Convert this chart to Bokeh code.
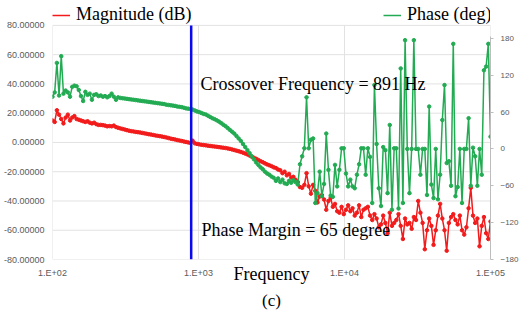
import numpy as np
from bokeh.plotting import figure
from bokeh.models import (Range1d, LinearAxis, FixedTicker, PrintfTickFormatter,
                          Label, Legend, LegendItem, Title)
from bokeh.embed import file_html
from bokeh.resources import INLINE

# Sweep frequencies (log spaced, 100 Hz .. 100 kHz)
freq_hz = np.logspace(2, 5, 201)

# Loop gain magnitude in dB
magnitude_db = [
    15, 14, 22, 19, 16, 13, 17, 19, 15, 17,
    18, 16, 15.5, 15, 14.5, 14, 14.5, 13.5, 13, 13.5,
    12.5, 12, 12, 11.8, 11.5, 11, 11.2, 11, 11.5, 10.5,
    10, 9.6, 9.2, 8.8, 8.4, 8, 7.7, 7.5, 7.2, 7,
    6.8, 6.5, 6.2, 5.9, 5.6, 5.4, 5.1, 4.8, 4.5, 4.3,
    4, 3.7, 3.4, 3, 2.6, 2.3, 2, 1.6, 1.3, 1,
    0.6, 0.3, 0, -0.3, 1.2, -0.6, -1, -1.3, -1.6, -1.8,
    -2, -2.2, -2.4, -2.6, -2.8, -3, -3.2, -3.4, -3.6, -3.8,
    -4.1, -4.4, -4.8, -5.2, -5.6, -6, -6.5, -7, -7.6, -8.2,
    -9, -9.8, -10.5, -11.2, -12, -12.8, -13.5, -14.3, -15, -15.6,
    -16.2, -17, -17.5, -18.5, -19, -21, -20, -22.5, -21.5, -24,
    -23.5, -25.5, -27, -30.5, -31, -29, -21, -30, -35, -29,
    -33, -41, -37, -36, -39, -46, -40, -38, -44, -42,
    -47, -48, -44, -49, -46, -43, -47, -45, -50, -48,
    -43, -51, -46, -45, -44, -50, -53, -49, -52, -58,
    -56, -50, -55, -62, -48, -57, -55, -53, -49, -57,
    -66, -52, -56, -55, -59, -51, -53, -40, -48, -55,
    -73, -60, -52, -57, -70, -60, -50, -42, -52, -60,
    -74, -55, -51, -49, -53, -56, -50, -60, -63, -58,
    -45, -31, -50, -55, -52, -71, -57, -51, -62, -66, -54,
]

# Loop gain phase in degrees
phase_deg = [
    85, 92, 140, 87, 151, 90, 95, 92, 85, 101,
    103, 102, 96, 86, 78, 93, 88, 90, 80, 88,
    89, 86, 87, 85, 86, 84, 86, 90, 85, 80,
    84, 83, 82.5, 82, 81.5, 81, 80.5, 80, 79.5, 79,
    78.5, 78, 77.5, 77, 76.5, 76, 75.5, 75, 74.5, 74,
    73.5, 73, 72, 71.5, 71, 70.5, 70, 69, 68.5, 68,
    67, 66, 65.5, 65, 64, 62.5, 61, 60, 58.5, 57,
    56, 54, 52, 50, 48.5, 46.5, 44.5, 42, 39.5, 37,
    34, 31, 28, 25, 21, 17, 13, 8, 3, -2,
    -7, -12, -17, -22, -26, -30, -33, -37, -40, -42,
    -45, -47, -52, -48, -54, -50, -56, -57, -52, -55,
    -51, -54, -58, -25, -12, 1, 84, 1, 15, 17,
    -88, -72, -37, -77, -57, 25, -34, -76, -78, -26,
    -61, -34, 1, 1, -40, -61, -50, -61, -64, -42,
    -25, 1, 1, -42, 1, -13, -88, 104, 8, -64,
    -93, 3, -2, -72, 39, -99, 1, 1, -97, 131,
    -88, 177, 0, -72, 0, 177, 0, 0, -42, 0,
    0, -75, 69, -58, -80, 0, -82, -42, 47, 104,
    -23, -20, -60, 171, -77, -62, 0, -88, 0, 0,
    50, -60, 2, -12, -60, 0, -42, 128, 134, 171, 20,
]

crossover_hz = 891
phase_margin_deg = 65

freq_ticks = [1e2, 1e3, 1e4, 1e5]
freq_tick_labels = ["1.E+02", "1.E+03", "1.E+04", "1.E+05"]
mag_ticks = [-80, -60, -40, -20, 0, 20, 40, 60, 80]
phase_ticks = [-180, -120, -60, 0, 60, 120, 180]

SERIF = "Liberation Serif"
SANS = "Liberation Sans"
RED = "#f21a1a"
GREEN = "#22ab52"
BLUE = "#0a0af0"
GRID = "#e2e2e2"
AXIS_TEXT = "#5a5a5a"

# The plotting area reaches up to the canvas top so the series key can sit
# inside it; the value ranges are padded above the top tick accordingly.
MAG_TOP = 97.0
PHASE_TOP = 241.6

p = figure(width=523, height=311, x_axis_type="log",
           x_range=Range1d(1e2, 1e5), y_range=Range1d(-80, MAG_TOP),
           output_backend="svg", toolbar_location=None,
           min_border_left=51, min_border_right=33,
           min_border_top=0, min_border_bottom=51)
p.extra_y_ranges = {"phase": Range1d(-180, PHASE_TOP)}
p.outline_line_color = None
p.background_fill_color = "white"
p.border_fill_color = "white"
p.grid.visible = False

# magnitude axis (left)
yax = p.yaxis[0]
yax.ticker = FixedTicker(ticks=mag_ticks)
yax.formatter = PrintfTickFormatter(format="%.5f")
yax.axis_line_color = None
yax.major_tick_line_color = None
yax.minor_tick_line_color = None
yax.major_tick_out = 0
yax.minor_tick_out = 0
yax.major_label_text_font = SANS
yax.major_label_text_font_size = "9px"
yax.major_label_text_color = AXIS_TEXT
yax.major_label_standoff = 8

# frequency axis (bottom); its title sits on the tick-label row
xax = p.xaxis[0]
xax.ticker = FixedTicker(ticks=freq_ticks)
xax.major_label_overrides = dict(zip(freq_ticks, freq_tick_labels))
xax.axis_line_color = None
xax.major_tick_line_color = None
xax.minor_tick_line_color = None
xax.major_tick_out = 0
xax.minor_tick_out = 0
xax.major_label_text_font = SANS
xax.major_label_text_font_size = "9px"
xax.major_label_text_color = AXIS_TEXT
xax.major_label_standoff = 8
xax.axis_label = "Frequency"
xax.axis_label_text_font = SERIF
xax.axis_label_text_font_style = "normal"
xax.axis_label_text_font_size = "18px"
xax.axis_label_text_color = "black"
xax.axis_label_standoff = -17

# phase axis (right)
rax = LinearAxis(y_range_name="phase", ticker=FixedTicker(ticks=phase_ticks),
                 bounds=(-180, 183))
rax.axis_line_color = "#bdbdbd"
rax.major_tick_line_color = "#bdbdbd"
rax.major_tick_in = 0
rax.major_tick_out = 3
rax.minor_tick_line_color = None
rax.minor_tick_out = 0
rax.major_label_text_font = SANS
rax.major_label_text_font_size = "8px"
rax.major_label_text_color = AXIS_TEXT
rax.major_label_standoff = 7
p.add_layout(rax, "right")

# gridlines at the tick values, limited to the tick span
n_mag = len(mag_ticks)
n_freq = len(freq_ticks)
p.segment(x0=[freq_ticks[0]] * n_mag, x1=[freq_ticks[-1]] * n_mag,
          y0=mag_ticks, y1=mag_ticks, line_color=GRID, line_width=1)
p.segment(x0=freq_ticks, x1=freq_ticks,
          y0=[mag_ticks[0]] * n_freq, y1=[mag_ticks[-1]] * n_freq,
          line_color=GRID, line_width=1)

# data series
mag_line = p.line(freq_hz, magnitude_db, line_color=RED, line_width=1.5)
p.scatter(freq_hz, magnitude_db, size=3.5, color=RED)
ph_line = p.line(freq_hz, phase_deg, line_color=GREEN, line_width=1.5,
                 y_range_name="phase")
p.scatter(freq_hz, phase_deg, size=3.5, color=GREEN, y_range_name="phase")

# crossover marker
p.segment(x0=[crossover_hz], x1=[crossover_hz],
          y0=[mag_ticks[0]], y1=[mag_ticks[-1]], line_color=BLUE, line_width=2.5)

# series keys across the top
for label, rend, loc in [("Magnitude (dB)", mag_line, (0, 234)),
                         ("Phase (deg)", ph_line, (331, 234))]:
    leg = Legend(items=[LegendItem(label=label, renderers=[rend])],
                 location=loc, orientation="horizontal",
                 border_line_color=None, background_fill_alpha=0,
                 padding=0, margin=0, spacing=0,
                 glyph_width=18, glyph_height=18, label_standoff=6,
                 label_height=18,
                 label_text_font=SERIF, label_text_font_size="18px",
                 label_text_color="black")
    p.add_layout(leg)

text_style = dict(x_units="screen", y_units="screen", text_font=SERIF,
                  text_font_size="18px", text_color="black",
                  text_baseline="middle")
p.add_layout(Label(x=148, y=176, text=f"Crossover Frequency = {crossover_hz} Hz",
                   text_align="left", **text_style))
p.add_layout(Label(x=149, y=30, text=f"Phase Margin = {phase_margin_deg} degree",
                   text_align="left", **text_style))

# figure caption
p.add_layout(Title(text="(c)", align="center", text_font=SERIF,
                   text_font_size="17px", text_font_style="normal",
                   text_color="black", standoff=4), "below")

open("out.html", "w").write(file_html(p, INLINE))
